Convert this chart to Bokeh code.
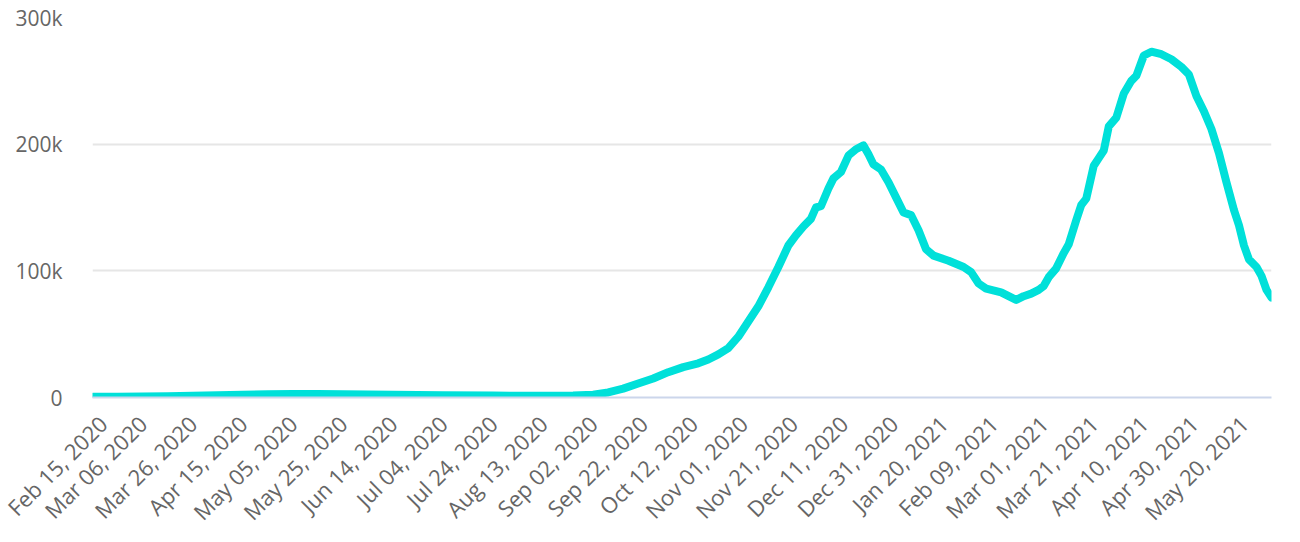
import math
from datetime import datetime
from bokeh.plotting import figure
from bokeh.models import ColumnDataSource, FixedTicker, Range1d
from bokeh.embed import file_html
from bokeh.resources import INLINE

# ---- data (7-day average style series) ----
dates = [
    "2020-02-15", "2020-02-25", "2020-03-06", "2020-03-16", "2020-03-26", "2020-04-05",
    "2020-04-15", "2020-04-25", "2020-05-05", "2020-05-15", "2020-05-25", "2020-06-04",
    "2020-06-14", "2020-07-04", "2020-07-24", "2020-08-13", "2020-08-25", "2020-09-02",
    "2020-09-08", "2020-09-14", "2020-09-20", "2020-09-26", "2020-10-02", "2020-10-08",
    "2020-10-14", "2020-10-18", "2020-10-22", "2020-10-26", "2020-10-30", "2020-11-03",
    "2020-11-07", "2020-11-11", "2020-11-15", "2020-11-19", "2020-11-22", "2020-11-25",
    "2020-11-28", "2020-11-30", "2020-12-02", "2020-12-05", "2020-12-07", "2020-12-10",
    "2020-12-13", "2020-12-16", "2020-12-19", "2020-12-21", "2020-12-23", "2020-12-26",
    "2020-12-29", "2021-01-01", "2021-01-04", "2021-01-07", "2021-01-10", "2021-01-13",
    "2021-01-16", "2021-01-22", "2021-01-28", "2021-01-31", "2021-02-03", "2021-02-06",
    "2021-02-12", "2021-02-16", "2021-02-18", "2021-02-21", "2021-02-24", "2021-02-27",
    "2021-03-01", "2021-03-03", "2021-03-06", "2021-03-09", "2021-03-11", "2021-03-14",
    "2021-03-16", "2021-03-18", "2021-03-21", "2021-03-23", "2021-03-25", "2021-03-27",
    "2021-03-30", "2021-04-02", "2021-04-05", "2021-04-07", "2021-04-10", "2021-04-13",
    "2021-04-17", "2021-04-21", "2021-04-25", "2021-04-28", "2021-05-01", "2021-05-04",
    "2021-05-07", "2021-05-10", "2021-05-13", "2021-05-16", "2021-05-18", "2021-05-20",
    "2021-05-22", "2021-05-25", "2021-05-27", "2021-05-29", "2021-05-31",
]
values = [
    500, 500, 700, 1000, 1400, 1800,
    2200, 2600, 2800, 2700, 2500, 2300,
    2100, 1800, 1500, 1400, 1600, 2200,
    4000, 7000, 11000, 15000, 20000, 24000,
    27000, 30000, 34000, 39000, 48000, 60000,
    72000, 87000, 103000, 120000, 128000, 135000,
    141000, 150000, 151000, 165000, 173000, 178000,
    191000, 196000, 199000, 192000, 184000, 180000,
    170000, 158000, 146000, 144000, 132000, 117000,
    112000, 108000, 103000, 99000, 90000, 86000,
    83000, 79000, 77000, 80000, 82000, 85000,
    88000, 95000, 102000, 114000, 121000, 140000,
    152000, 157000, 183000, 189000, 195000, 214000,
    221000, 240000, 250000, 254000, 270000, 273000,
    271000, 267000, 261000, 255000, 238000, 226000,
    212000, 193000, 170000, 148000, 136000, 120000,
    109000, 103000, 96000, 85000, 79000,
]

tick_dates = [
    "2020-02-15", "2020-03-06", "2020-03-26", "2020-04-15", "2020-05-05", "2020-05-25",
    "2020-06-14", "2020-07-04", "2020-07-24", "2020-08-13", "2020-09-02", "2020-09-22",
    "2020-10-12", "2020-11-01", "2020-11-21", "2020-12-11", "2020-12-31", "2021-01-20",
    "2021-02-09", "2021-03-01", "2021-03-21", "2021-04-10", "2021-04-30", "2021-05-20",
]
tick_labels = [
    "Feb 15, 2020", "Mar 06, 2020", "Mar 26, 2020", "Apr 15, 2020", "May 05, 2020",
    "May 25, 2020", "Jun 14, 2020", "Jul 04, 2020", "Jul 24, 2020", "Aug 13, 2020",
    "Sep 02, 2020", "Sep 22, 2020", "Oct 12, 2020", "Nov 01, 2020", "Nov 21, 2020",
    "Dec 11, 2020", "Dec 31, 2020", "Jan 20, 2021", "Feb 09, 2021", "Mar 01, 2021",
    "Mar 21, 2021", "Apr 10, 2021", "Apr 30, 2021", "May 20, 2021",
]
y_ticks = [0, 100000, 200000, 300000]
y_labels = ["0", "100k", "200k", "300k"]

x_start = "2020-02-15"
x_end = "2021-05-31"


def to_dt(s):
    return datetime.strptime(s, "%Y-%m-%d")


def to_ms(s):
    return (to_dt(s) - datetime(1970, 1, 1)).total_seconds() * 1000.0


src = ColumnDataSource(dict(x=[to_dt(d) for d in dates], y=values))

p = figure(
    width=1300, height=542, x_axis_type="datetime",
    output_backend="svg", toolbar_location=None,
    x_range=Range1d(to_ms(x_start), to_ms(x_end)),
    y_range=Range1d(0, 300000),
    min_border_left=92, min_border_right=29, min_border_top=17, min_border_bottom=145,
)
p.outline_line_color = None
p.background_fill_color = "white"
p.border_fill_color = "white"

p.line("x", "y", source=src, line_color="#00e0d9", line_width=8,
       line_join="round", line_cap="round")

tick_ms = [to_ms(d) for d in tick_dates]
p.xaxis.ticker = FixedTicker(ticks=tick_ms)
p.xaxis.major_label_overrides = {t: l for t, l in zip(tick_ms, tick_labels)}
p.xaxis.major_label_orientation = math.pi / 4
p.xaxis.axis_line_color = "#ccd6eb"
p.xaxis.axis_line_width = 2
p.xaxis.major_tick_line_color = None
p.xaxis.minor_tick_line_color = None
p.xaxis.major_label_text_font = "Open Sans"
p.xaxis.major_label_text_font_size = "22px"
p.xaxis.major_label_text_color = "#666666"
p.xaxis.major_label_standoff = 16

p.yaxis.ticker = FixedTicker(ticks=y_ticks)
p.yaxis.major_label_overrides = {t: l for t, l in zip(y_ticks, y_labels)}
p.yaxis.axis_line_color = None
p.yaxis.major_tick_line_color = None
p.yaxis.minor_tick_line_color = None
p.yaxis.major_label_text_font = "Open Sans"
p.yaxis.major_label_text_font_size = "21px"
p.yaxis.major_label_text_color = "#666666"
p.yaxis.major_label_standoff = 24

p.xgrid.grid_line_color = None
p.ygrid.grid_line_color = "#e6e6e6"
p.ygrid.grid_line_width = 2

open("out.html", "w").write(file_html(p, INLINE))
